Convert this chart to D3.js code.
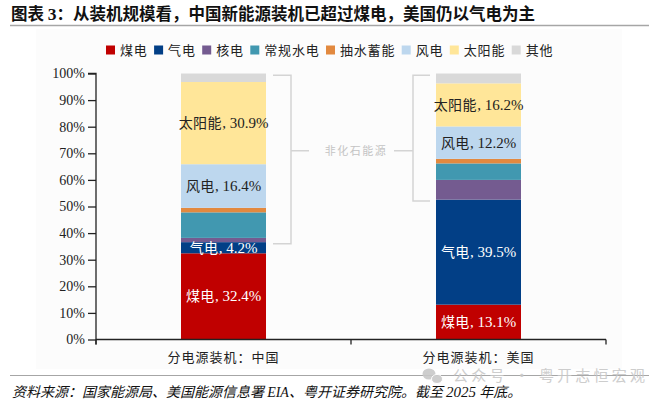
<!DOCTYPE html>
<html>
<head>
<meta charset="utf-8">
<script src="https://cdn.jsdelivr.net/npm/d3@7"></script>
<style>
  body { margin: 0; background: #fff; }
  svg { display: block; }
</style>
</head>
<body>
<svg id="chart"></svg>
<script>
let width = 662;
let height = 405;

// data
let countries = ['分电源装机：中国', '分电源装机：美国'];
let sources = ['煤电', '气电', '核电', '常规水电', '抽水蓄能', '风电', '太阳能', '其他'];
let chinaShares = [32.4, 4.2, 1.6, 9.6, 1.7, 16.4, 30.9, 3.2];
let usShares = [13.1, 39.5, 7.4, 6.2, 1.7, 12.2, 16.2, 3.7];
let sourceColors = ['#C00000', '#023F86', '#745B90', '#4198B0', '#E2893F', '#BDD7EE', '#FFE699', '#D9D9D9'];
let labeledSources = ['煤电', '气电', '风电', '太阳能'];
let whiteLabelSources = ['煤电', '气电'];
let yTicks = [0, 10, 20, 30, 40, 50, 60, 70, 80, 90, 100];

let cjk = '"Noto Sans CJK SC", sans-serif';
let serif = '"Liberation Serif", "Times New Roman", serif';

let rows = countries.map((c, i) => {
    let row = {country: c};
    let vals = i === 0 ? chinaShares : usShares;
    sources.forEach((s, j) => row[s] = vals[j]);
    return row;
});

let svg = d3.select('#chart')
    .attr('width', width)
    .attr('height', height)
    .attr('viewBox', [0, 0, width, height]);

// title
let title = svg.append('text')
    .attr('x', 11)
    .attr('y', 20)
    .attr('font-size', 16.5)
    .attr('font-weight', 'bold')
    .attr('fill', '#111')
    .attr('font-family', cjk);
title.append('tspan').text('图表 ');
title.append('tspan').attr('font-family', serif).attr('font-size', 17.5).text('3');
title.append('tspan').text('：从装机规模看，中国新能源装机已超过煤电，美国仍以气电为主');

svg.append('line')
    .attr('x1', 10).attr('x2', 649)
    .attr('y1', 25.5).attr('y2', 25.5)
    .attr('stroke', '#a6a6a6')
    .attr('stroke-width', 1.5);

// faint plot background
svg.append('rect')
    .attr('x', 36).attr('y', 29)
    .attr('width', 586).attr('height', 340)
    .attr('fill', '#fcfcfc');

let x = d3.scaleBand()
    .domain(countries)
    .range([96, 606])
    .paddingInner(2 / 3)
    .paddingOuter(1 / 3);

let y = d3.scaleLinear()
    .domain([0, 100])
    .range([339.5, 73.5]);

let color = d3.scaleOrdinal()
    .domain(sources)
    .range(sourceColors);

let series = d3.stack().keys(sources)(rows);

// legend
let legend = svg.append('g')
    .attr('font-family', cjk)
    .attr('font-size', 13)
    .attr('fill', '#222');
let lx = 106;
sources.forEach(s => {
    legend.append('rect')
        .attr('x', lx).attr('y', 45.5)
        .attr('width', 9).attr('height', 9)
        .attr('fill', color(s));
    legend.append('text')
        .attr('x', lx + 14)
        .attr('y', 55)
        .attr('letter-spacing', 0.8)
        .text(s);
    lx += 14 + s.length * 13.8 + 6.5;
});

// bars
let layers = svg.append('g')
    .selectAll('g')
    .data(series)
    .join('g')
    .attr('fill', d => color(d.key));

layers.selectAll('rect')
    .data(d => d)
    .join('rect')
    .attr('x', d => x(d.data.country))
    .attr('y', d => y(d[1]))
    .attr('height', d => y(d[0]) - y(d[1]))
    .attr('width', x.bandwidth());

// segment labels
series.filter(s => labeledSources.includes(s.key)).forEach(s => {
    s.forEach(d => {
        let t = svg.append('text')
            .attr('x', x(d.data.country) + x.bandwidth() / 2)
            .attr('y', y((d[0] + d[1]) / 2) + 5)
            .attr('text-anchor', 'middle')
            .attr('font-size', 14)
            .attr('fill', whiteLabelSources.includes(s.key) ? '#fff' : '#222');
        t.append('tspan').attr('font-family', cjk).attr('letter-spacing', 0.5).text(s.key);
        t.append('tspan').attr('font-family', serif).attr('font-size', 15).text(', ' + d.data[s.key] + '%');
    });
});

// y axis
let yAxis = svg.append('g')
    .attr('transform', 'translate(96,0)')
    .call(d3.axisLeft(y).tickValues(yTicks).tickSize(8).tickPadding(3).tickFormat(d => d + '%'));
yAxis.selectAll('text')
    .attr('font-family', serif)
    .attr('font-size', 14)
    .attr('fill', '#222');
yAxis.selectAll('line, path').attr('stroke', '#222').attr('stroke-width', 1.3);
yAxis.select('.domain').attr('d', `M-8,${y(100)}H0V${y(0) + 5}`);

// x axis: baseline with ticks at category boundaries
let xAxis = svg.append('g');
xAxis.append('line')
    .attr('x1', 96).attr('x2', 606)
    .attr('y1', y(0)).attr('y2', y(0))
    .attr('stroke', '#222').attr('stroke-width', 1.3);
d3.range(countries.length + 1).forEach(i => {
    let bx = 96 + i * x.step();
    xAxis.append('line')
        .attr('x1', bx).attr('x2', bx)
        .attr('y1', y(0)).attr('y2', y(0) + 5)
        .attr('stroke', '#222').attr('stroke-width', 1.3);
});
xAxis.selectAll('text.cat')
    .data(countries)
    .join('text')
    .attr('class', 'cat')
    .attr('x', d => x(d) + x.bandwidth() / 2)
    .attr('y', 362)
    .attr('text-anchor', 'middle')
    .attr('font-family', cjk)
    .attr('font-size', 13)
    .attr('letter-spacing', 1)
    .attr('fill', '#222')
    .text(d => d);

// 非化石能源 brackets: from top of 气电 to 100%
let bracketColor = '#d4d4d4';
let gasTop = countries.map((c, i) => series[1][i][1]);
let midY = y(71);
let brackets = svg.append('g')
    .attr('fill', 'none')
    .attr('stroke', bracketColor)
    .attr('stroke-width', 1.5);
let leftBarRight = x(countries[0]) + x.bandwidth();
let rightBarLeft = x(countries[1]);
brackets.append('path')
    .attr('d', `M${leftBarRight + 7},${y(99.3)}H${leftBarRight + 25}V${y(gasTop[0]) + 1.5}H${leftBarRight + 7}M${leftBarRight + 25},${midY}H${leftBarRight + 43}`);
brackets.append('path')
    .attr('d', `M${rightBarLeft - 6},${y(99.3)}H${rightBarLeft - 23}V${y(gasTop[1]) + 1.5}H${rightBarLeft - 6}M${rightBarLeft - 23},${midY}H${rightBarLeft - 42}`);
svg.append('text')
    .attr('x', 356)
    .attr('y', midY + 4)
    .attr('text-anchor', 'middle')
    .attr('font-family', cjk)
    .attr('font-size', 11)
    .attr('letter-spacing', 1.5)
    .attr('fill', '#c4c4c4')
    .text('非化石能源');

// footer
svg.append('line')
    .attr('x1', 10).attr('x2', 649)
    .attr('y1', 375.5).attr('y2', 375.5)
    .attr('stroke', '#a6a6a6')
    .attr('stroke-width', 1.2);

let foot = svg.append('text')
    .attr('x', 12)
    .attr('y', 396.5)
    .attr('font-size', 14)
    .attr('font-style', 'italic')
    .attr('fill', '#111')
    .attr('font-family', cjk);
foot.append('tspan').text('资料来源：国家能源局、美国能源信息署 ');
foot.append('tspan').attr('font-family', serif).text('EIA');
foot.append('tspan').text('、粤开证券研究院。截至 ');
foot.append('tspan').attr('font-family', serif).attr('font-size', 15).text('2025');
foot.append('tspan').text(' 年底。');

// watermark
let wm = svg.append('g').attr('fill', '#c8c8c8').attr('opacity', 0.9);
wm.append('ellipse').attr('cx', 429).attr('cy', 374).attr('rx', 6.5).attr('ry', 5.5);
wm.append('ellipse').attr('cx', 437).attr('cy', 379).attr('rx', 5.5).attr('ry', 4.5).attr('stroke', '#fff').attr('stroke-width', 1);
wm.append('text')
    .attr('x', 453)
    .attr('y', 381)
    .attr('font-family', cjk)
    .attr('font-size', 15)
    .attr('letter-spacing', 3.2)
    .text('公众号 · 粤开志恒宏观');
</script>
</body>
</html>
